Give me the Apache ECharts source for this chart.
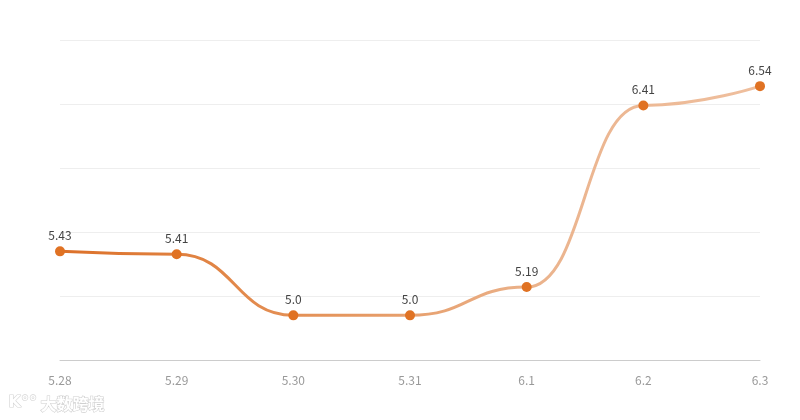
<!DOCTYPE html>
<html><head><meta charset="utf-8">
<script src="https://cdn.jsdelivr.net/npm/echarts@6/dist/echarts.min.js"></script>
<style>html,body{margin:0;padding:0;background:#fff}#c{width:800px;height:420px}</style>
</head><body><div id="c"></div>
<script>
var categories = ['5.28','5.29','5.30','5.31','6.1','6.2','6.3'];
var values = [5.43, 5.41, 5.0, 5.0, 5.19, 6.41, 6.54];
var labels = ['5.43','5.41','5.0','5.0','5.19','6.41','6.54'];
var chart = echarts.init(document.getElementById('c'));
chart.setOption({
  animation: false,
  textStyle: { fontFamily: '"Noto Sans CJK SC", "Noto Sans", sans-serif' },
  grid: { left: 60, right: 40, top: 40, bottom: 60 },
  xAxis: {
    type: 'category', data: categories, boundaryGap: false,
    axisLine: { lineStyle: { color: '#cccccc' } },
    axisTick: { show: false },
    axisLabel: { color: '#999999', fontSize: 12, margin: 14 }
  },
  yAxis: {
    type: 'value', min: 4.7, max: 6.85, interval: 0.43,
    axisLabel: { show: false }, axisLine: { show: false }, axisTick: { show: false },
    splitLine: { lineStyle: { color: '#eeeeee' } }
  },
  series: [{
    type: 'line', data: values, smooth: 0.5, smoothMonotone: 'x',
    symbol: 'circle', symbolSize: 10,
    itemStyle: { color: '#e07223' },
    lineStyle: { width: 3, color: new echarts.graphic.LinearGradient(0, 0, 1, 0, [
      { offset: 0, color: '#dc7028' },
      { offset: 0.4, color: '#e5965e' },
      { offset: 0.7, color: '#ebb48e' },
      { offset: 1, color: '#efbf9e' }
    ]) },
    label: { show: true, position: 'top', color: '#444444', fontSize: 12,
      formatter: function (p) { return labels[p.dataIndex]; } }
  }],
  graphic: [
    { type: 'text', left: 8, top: 394, style: { text: 'K°°', fontSize: 16, fill: '#ffffff', stroke: '#d4d4d4', lineWidth: 1.2, fontWeight: 'bold', fontFamily: 'DejaVu Sans' } },
    { type: 'text', left: 40, top: 395, style: { text: '大数跨境', fontSize: 16, fill: '#ffffff', stroke: '#d0d0d0', lineWidth: 1.2, fontWeight: 'bold', fontFamily: '"Noto Sans CJK SC"' } }
  ]
});
</script></body></html>
